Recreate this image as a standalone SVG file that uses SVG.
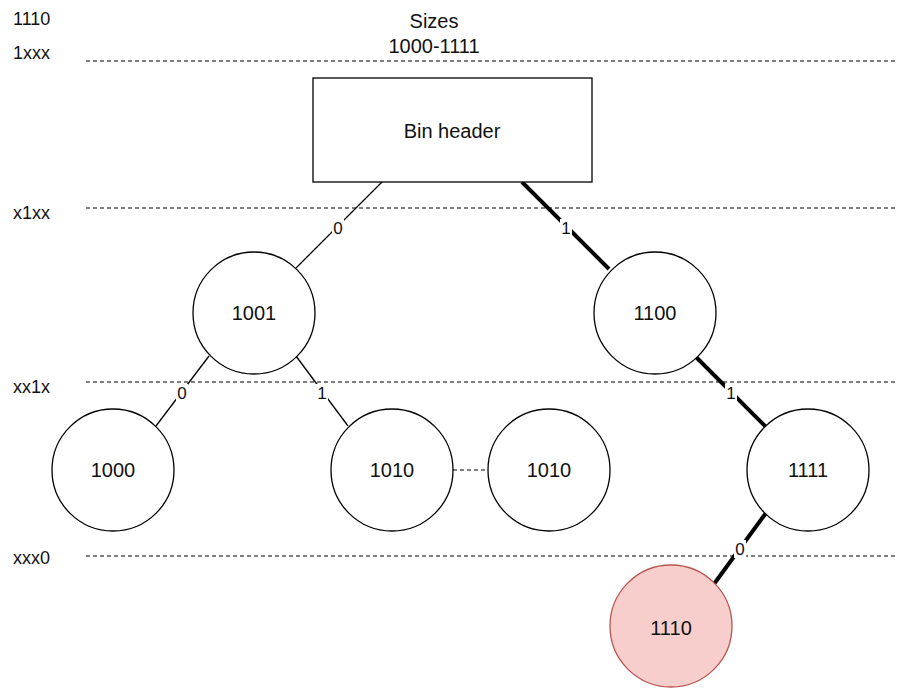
<svg xmlns="http://www.w3.org/2000/svg" width="897" height="688" viewBox="0 0 897 688">
<style>
text{font-family:"Liberation Sans",Arial,sans-serif;fill:#111}
.t{font-size:18px}
.n{font-size:20px;text-anchor:middle;dominant-baseline:central}
.e{font-size:17px;text-anchor:middle;dominant-baseline:central}
.lb{fill:#fff}
.c{fill:#fff;stroke:#000;stroke-width:1.3}
.hi{fill:#f8cecc;stroke:#b85450;stroke-width:1.3}
.dash{stroke:#000;stroke-width:1.2;stroke-dasharray:4 3;fill:none}
.thin{stroke:#000;stroke-width:1.3;fill:none}
.thick{stroke:#000;stroke-width:4;fill:none}
</style>
<rect width="897" height="688" fill="#fff"/>
<g id="levels">
<text class="t" x="13" y="25">1110</text>
<text class="t" x="13" y="59">1xxx</text>
<text class="t" x="13" y="219">x1xx</text>
<text class="t" x="13" y="393">xx1x</text>
<text class="t" x="13" y="564">xxx0</text>
<line class="dash" x1="86" y1="61" x2="897" y2="61"/>
<line class="dash" x1="86" y1="208" x2="897" y2="208"/>
<line class="dash" x1="86" y1="382" x2="897" y2="382"/>
<line class="dash" x1="86" y1="556" x2="897" y2="556"/>
<text class="n" x="434" y="21">Sizes</text>
<text class="n" x="434" y="46">1000-1111</text>
</g>
<g id="connectors">
<line class="thin" x1="382" y1="182" x2="296" y2="268"/>
<line class="thick" x1="522" y1="182" x2="609" y2="269"/>
<line class="thin" x1="209" y1="356" x2="156" y2="426"/>
<line class="thin" x1="296" y1="356" x2="348" y2="426"/>
<line class="thick" x1="695" y1="356" x2="767" y2="428"/>
<line class="thick" x1="766" y1="513" x2="714" y2="584"/>
<line class="dash" x1="453" y1="470" x2="488" y2="470"/>
<rect class="lb" x="332" y="219" width="12" height="18"/>
<text class="e" x="338" y="228">0</text>
<rect class="lb" x="560" y="219" width="12" height="18"/>
<text class="e" x="566" y="228">1</text>
<rect class="lb" x="176" y="384" width="12" height="18"/>
<text class="e" x="182" y="393">0</text>
<rect class="lb" x="316" y="384" width="12" height="18"/>
<text class="e" x="322" y="393">1</text>
<rect class="lb" x="725" y="384" width="12" height="18"/>
<text class="e" x="731" y="393">1</text>
<rect class="lb" x="734" y="540" width="12" height="18"/>
<text class="e" x="740" y="549">0</text>
</g>
<g id="bin-header">
<rect x="313" y="78" width="279" height="104" fill="#fff" stroke="#000" stroke-width="1.3"/>
<text class="n" x="452" y="131">Bin header</text>
</g>
<g id="n1001"><circle class="c" cx="254" cy="313" r="61"/><text class="n" x="254" y="313">1001</text></g>
<g id="n1100"><circle class="c" cx="655" cy="313" r="61"/><text class="n" x="655" y="313">1100</text></g>
<g id="n1000"><circle class="c" cx="113" cy="470" r="61"/><text class="n" x="113" y="470">1000</text></g>
<g id="n1010a"><circle class="c" cx="392" cy="470" r="61"/><text class="n" x="392" y="470">1010</text></g>
<g id="n1010b"><circle class="c" cx="549" cy="470" r="61"/><text class="n" x="549" y="470">1010</text></g>
<g id="n1111"><circle class="c" cx="808" cy="470" r="61"/><text class="n" x="808" y="470">1111</text></g>
<g id="n1110"><circle class="hi" cx="671" cy="626" r="61"/><text class="n" x="671" y="628">1110</text></g>
</svg>
